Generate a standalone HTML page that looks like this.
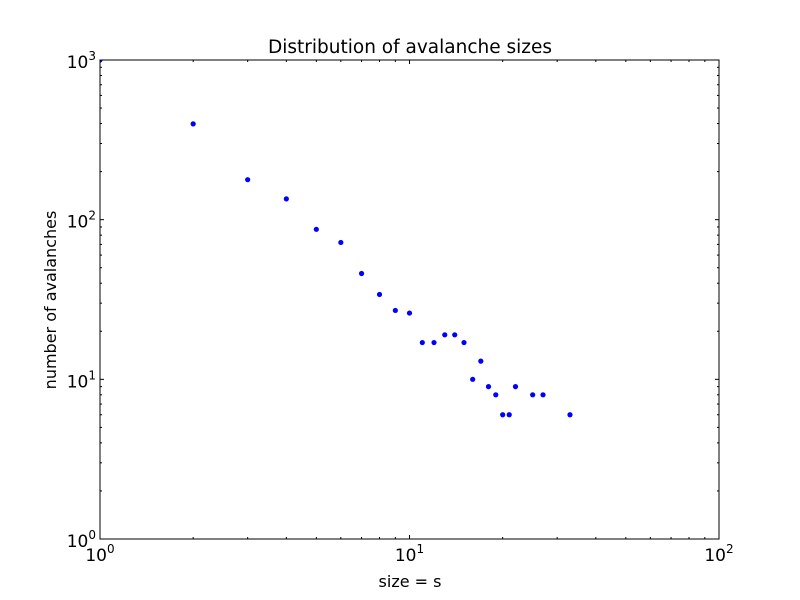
<!DOCTYPE html>
<html><head><meta charset="utf-8"><style>
body{margin:0;background:#fff;}
svg{display:block;font-family:"DejaVu Sans","Liberation Sans",sans-serif;}
</style></head><body>
<svg id="chart" width="800" height="600" xmlns="http://www.w3.org/2000/svg">
<rect width="800" height="600" fill="#fff"/>
<defs><clipPath id="clip"><rect x="100" y="60" width="619" height="479"/></clipPath></defs>
<g id="ticks"></g>
<g id="points" clip-path="url(#clip)"></g>
<rect x="100" y="60" width="619" height="479" fill="none" stroke="#000" stroke-width="1"/>
<text x="410" y="53" font-size="18.5" text-anchor="middle">Distribution of avalanche sizes</text>
<text x="410" y="587" font-size="16" text-anchor="middle">size = s</text>
<text transform="translate(56,300) rotate(-90)" font-size="16" text-anchor="middle">number of avalanches</text>
<g id="labels"></g>
</svg>
<script>
const sizes=[1,2,3,4,5,6,7,8,9,10,11,12,13,14,15,16,17,18,19,20,21,22,25,27,33];
const counts=[1000,398,178,135,87,72,46,34,27,26,17,17,19,19,17,10,13,9,8,6,6,9,8,8,6];
const xDecades=[0,1,2];
const yDecades=[0,1,2,3];
const NS="http://www.w3.org/2000/svg";
const X0=100,X1=719,Y0=539,Y1=60;
const xs=v=>X0+(X1-X0)*(Math.log10(v)-0)/2;
const ys=v=>Y0-(Y0-Y1)*(Math.log10(v)-0)/3;
function mk(t,a,p){const e=document.createElementNS(NS,t);for(const k in a)e.setAttribute(k,a[k]);p.appendChild(e);return e;}
const tg=document.getElementById('ticks'),lg=document.getElementById('labels'),pg=document.getElementById('points');
function line(x1,y1,x2,y2){const l=mk('line',{x1,y1,x2,y2,stroke:'#000','stroke-width':1},tg);

}
xDecades.forEach(d=>{
 const x=xs(Math.pow(10,d));
 line(x,Y0,x,Y0-4);line(x,Y1,x,Y1+4);
 const t=mk('text',{x:x,y:561,'font-size':17,'text-anchor':'middle'},lg);
 
 
 t.innerHTML='10<tspan dy="-8" font-size="12">'+d+'</tspan>';
 if(d<2)for(let m=2;m<10;m++){const xm=xs(m*Math.pow(10,d));line(xm,Y0,xm,Y0-2);line(xm,Y1,xm,Y1+2);}
});
yDecades.forEach(d=>{
 const y=ys(Math.pow(10,d));
 line(X0,y,X0+4,y);line(X1,y,X1-4,y);
 const t=mk('text',{x:96,y:y+8,'font-size':17,'text-anchor':'end'},lg);
 
 
 t.innerHTML='10<tspan dy="-8" font-size="12">'+d+'</tspan>';
 if(d<3)for(let m=2;m<10;m++){const ym=ys(m*Math.pow(10,d));line(X0,ym,X0+2,ym);line(X1,ym,X1-2,ym);}
});
sizes.forEach((s,i)=>{
 const c=mk('circle',{cx:xs(s),cy:ys(counts[i]),r:2.6,fill:'#0000ff'},pg);
 
 
});
</script>
</body></html>
